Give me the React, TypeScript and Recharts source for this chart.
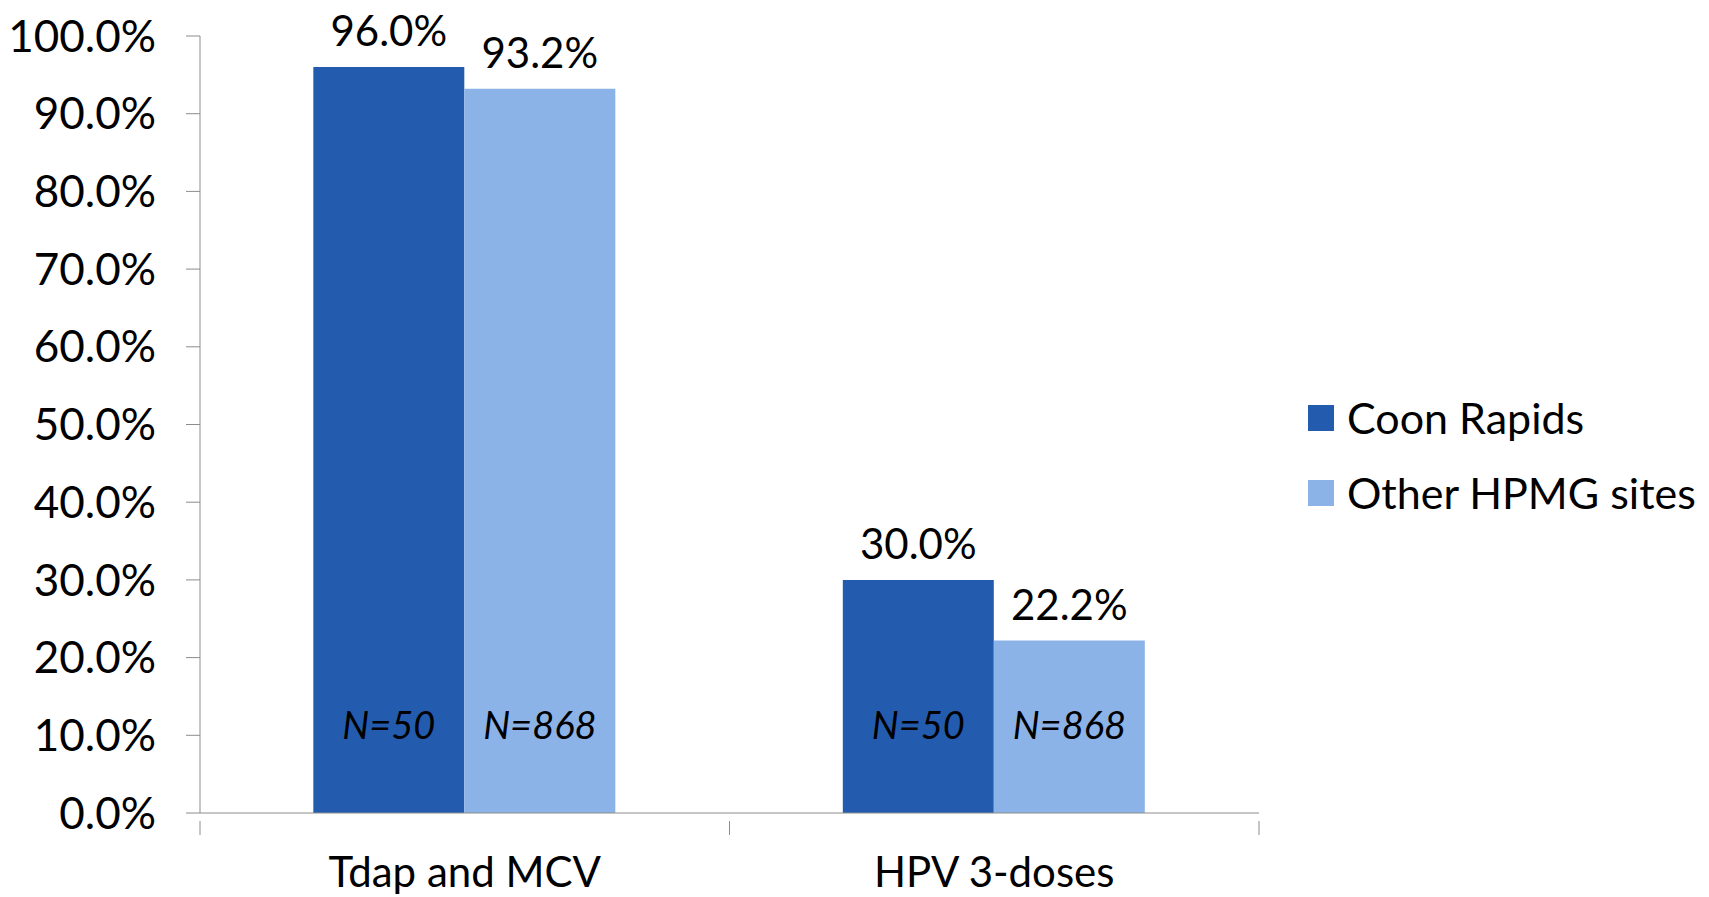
import React from 'react';
import { BarChart, Bar, XAxis, YAxis, Legend, LabelList } from 'recharts';

// vaccination coverage, Coon Rapids vs the other HPMG sites
const CATEGORIES = ['Tdap and MCV', 'HPV 3-doses'];
const COON_RAPIDS = [96.0, 30.0];
const OTHER_SITES = [93.2, 22.2];
const COON_N = [50, 50];
const OTHER_N = [868, 868];
const Y_TICKS = [0, 10, 20, 30, 40, 50, 60, 70, 80, 90, 100];

const DARK = '#235CAE';
const LIGHT = '#8CB3E8';
const AXIS = '#8C8C8C';
const FONT = 'Lato, "Open Sans", sans-serif';

const data = CATEGORIES.map((name, i) => ({
  name,
  coon: COON_RAPIDS[i],
  other: OTHER_SITES[i],
  coonN: COON_N[i],
  otherN: OTHER_N[i],
}));

const fmt = (v: number) => `${v.toFixed(1)}%`;

// value above the bar
const TopLabel = (props: any) => {
  const { x, y, width, value } = props;
  return (
    <text x={x + width / 2} y={y - 21} textAnchor="middle" fontSize={42} fontFamily={FONT} fill="#000">
      {fmt(value)}
    </text>
  );
};

// italic sample size near the bottom of the bar
const NLabel = (props: any) => {
  const { x, y, width, height, value } = props;
  return (
    <text x={x + width / 2} y={y + height - 74} textAnchor="middle" fontSize={38} fontStyle="italic" fontFamily={FONT} fill="#000">
      {`N=${value}`}
    </text>
  );
};

// Excel-style x ticks: marks between categories, label in the middle
const CategoryTick = (props: any) => {
  const { x, y, payload, index, visibleTicksCount, width } = props;
  const band = (width ?? 1058) / (visibleTicksCount ?? 2);
  const last = index === (visibleTicksCount ?? 2) - 1;
  return (
    <g>
      <line x1={x - band / 2} y1={y} x2={x - band / 2} y2={y + 14} stroke={AXIS} />
      {last && <line x1={x + band / 2} y1={y} x2={x + band / 2} y2={y + 14} stroke={AXIS} />}
      <text x={x} y={y + 66} textAnchor="middle" fontSize={42} fontFamily={FONT} fill="#000">
        {payload.value}
      </text>
    </g>
  );
};

const LegendBox = () => (
  <div style={{ fontFamily: FONT, fontSize: 43, color: '#000' }}>
    {[
      { label: 'Coon Rapids', color: DARK },
      { label: 'Other HPMG sites', color: LIGHT },
    ].map((item) => (
      <div key={item.label} style={{ display: 'flex', alignItems: 'center', height: 75, whiteSpace: 'nowrap' }}>
        <span style={{ width: 26, height: 26, background: item.color, marginRight: 13, display: 'inline-block' }} />
        <span>{item.label}</span>
      </div>
    ))}
  </div>
);

export default function App() {
  return (
    <div style={{ position: 'absolute', left: 0, top: 0, background: '#fff' }}>
      <BarChart
        width={1709}
        height={897}
        data={data}
        margin={{ top: 36, right: 450, left: 0, bottom: 0 }}
        barCategoryGap="21.4%"
        barGap={0}
      >
        <XAxis
          dataKey="name"
          axisLine={{ stroke: AXIS }}
          tickLine={false}
          tick={<CategoryTick />}
          interval={0}
          height={84}
        />
        <YAxis
          domain={[0, 100]}
          ticks={Y_TICKS}
          tickFormatter={fmt}
          width={200}
          axisLine={{ stroke: AXIS }}
          tickLine={{ stroke: AXIS }}
          tickSize={14}
          tickMargin={30}
          tick={{ fontSize: 44, fill: '#000', fontFamily: FONT }}
        />
        <Legend
          layout="horizontal"
          verticalAlign="middle"
          align="center"
          content={<LegendBox />}
          wrapperStyle={{ left: 1308, top: 380, width: 'auto', height: 'auto' }}
        />
        <Bar dataKey="coon" name="Coon Rapids" fill={DARK} isAnimationActive={false}>
          <LabelList dataKey="coon" content={<TopLabel />} />
          <LabelList dataKey="coonN" content={<NLabel />} />
        </Bar>
        <Bar dataKey="other" name="Other HPMG sites" fill={LIGHT} isAnimationActive={false}>
          <LabelList dataKey="other" content={<TopLabel />} />
          <LabelList dataKey="otherN" content={<NLabel />} />
        </Bar>
      </BarChart>
    </div>
  );
}
